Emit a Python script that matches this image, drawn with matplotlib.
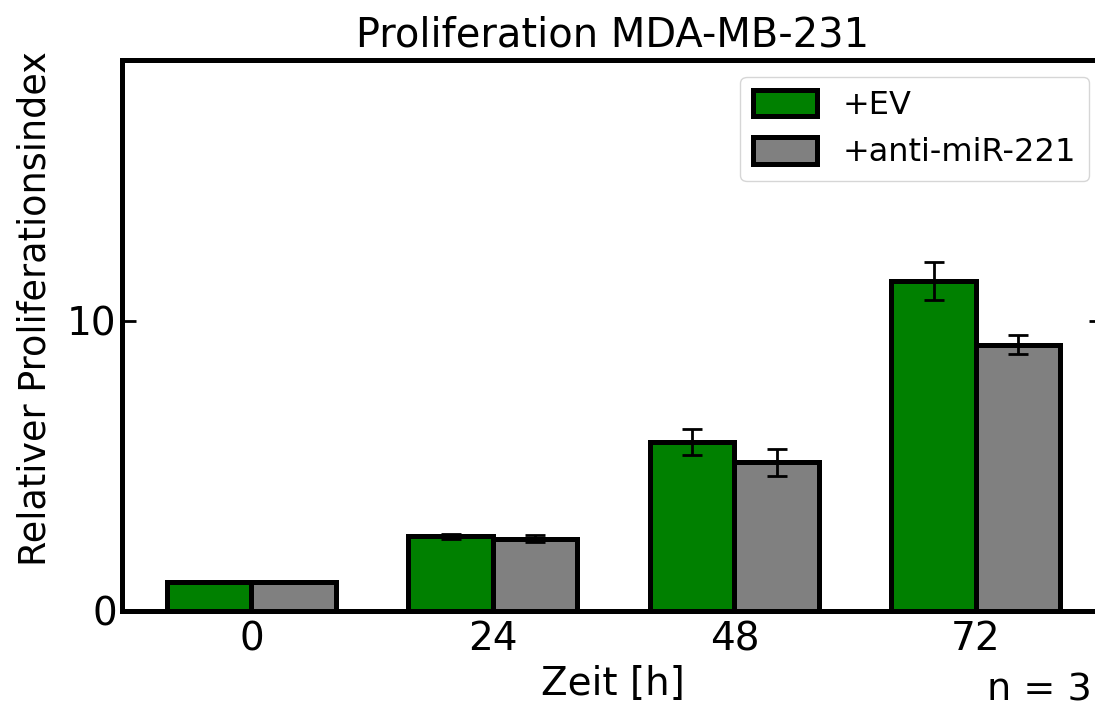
import matplotlib
matplotlib.use("Agg")
import matplotlib.pyplot as plt
import numpy as np

# Proliferation data, mean +/- error
zeit = ["0", "24", "48", "72"]
ev_mean = [1.0, 2.56, 5.82, 11.38]
ev_err = [0.0, 0.09, 0.46, 0.65]
anti_mean = [1.0, 2.47, 5.12, 9.18]
anti_err = [0.0, 0.12, 0.46, 0.33]

plt.rcParams['font.family'] = ['DejaVu Sans']

fig = plt.figure(figsize=(10.95, 7.10), dpi=100)
ax = fig.add_axes([0.1117, 0.1401, 0.8953, 0.7754])

x = np.arange(len(zeit))
w = 0.35
err_kw = dict(ecolor='black', elinewidth=2, capsize=7.5, capthick=2)
ax.bar(x - w / 2, ev_mean, w, yerr=ev_err, color='green', edgecolor='black',
       linewidth=3.6, label='+EV', error_kw=err_kw)
ax.bar(x + w / 2, anti_mean, w, yerr=anti_err, color='gray', edgecolor='black',
       linewidth=3.6, label='+anti-miR-221', error_kw=err_kw)

ax.set_xlim(-0.535, 3.525)
ax.set_ylim(0, 19)
ax.set_xticks(x)
ax.set_xticklabels(zeit)
ax.set_yticks([0, 10])

for s in ax.spines.values():
    s.set_linewidth(3.6)

ax.tick_params(axis='both', direction='in', labelsize=28, width=2, length=10,
               pad=7, right=True)
ax.tick_params(axis='x', length=0)
ax.tick_params(axis='y', pad=4)

ax.set_title("Proliferation MDA-MB-231", fontsize=28.8, pad=10)
ax.set_xlabel("Zeit [h]", fontsize=28, labelpad=5)
ax.set_ylabel("Relativer Proliferationsindex", fontsize=26.3)
ax.yaxis.label.set_va('center')
ax.yaxis.set_label_coords(-0.089, 0.549)

leg = ax.legend(loc='upper right', fontsize=23, bbox_to_anchor=(0.986, 0.969),
                borderaxespad=0, handlelength=2.0, handleheight=0.9)

fig.text(0.901, 0.014, "n = 3", fontsize=27.5, ha='left', va='baseline')

fig.savefig("out.png", dpi=100)
